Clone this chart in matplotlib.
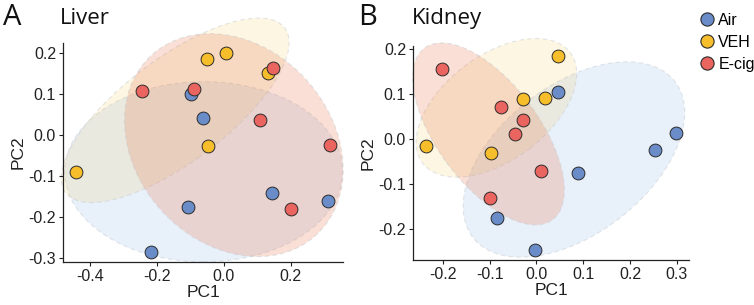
import numpy as np
import matplotlib
matplotlib.use("Agg")
import matplotlib.pyplot as plt
from matplotlib.patches import Ellipse

plt.rcParams['font.family'] = ['Liberation Sans', 'DejaVu Sans']

groups = ["Air", "VEH", "E-cig"]
colors = {"Air": "#6A8CC8", "VEH": "#F7BE2B", "E-cig": "#EA6460"}
fill_colors = {"Air": "#8FB8E8", "VEH": "#F7BE2B", "E-cig": "#E8805A"}
fill_alpha = {"Air": 0.2, "VEH": 0.13, "E-cig": 0.25}

# Liver PCA scores
liver_air_pc1 = [-0.097, -0.062, 0.145, 0.310, -0.108, -0.217]
liver_air_pc2 = [0.100, 0.041, -0.141, -0.162, -0.177, -0.286]
liver_veh_pc1 = [0.007, -0.050, 0.133, -0.048, -0.442]
liver_veh_pc2 = [0.200, 0.185, 0.150, -0.027, -0.090]
liver_ecig_pc1 = [0.148, -0.245, -0.088, 0.108, 0.318, 0.200]
liver_ecig_pc2 = [0.163, 0.108, 0.113, 0.037, -0.025, -0.182]

# Kidney PCA scores
kidney_air_pc1 = [0.299, 0.254, 0.089, 0.045, -0.084, -0.004]
kidney_air_pc2 = [0.014, -0.025, -0.075, 0.104, -0.176, -0.248]
kidney_veh_pc1 = [0.045, -0.029, 0.019, -0.237, -0.098]
kidney_veh_pc2 = [0.185, 0.089, 0.091, -0.016, -0.031]
kidney_ecig_pc1 = [-0.201, -0.076, -0.029, -0.046, 0.010, -0.100]
kidney_ecig_pc2 = [0.156, 0.070, 0.042, 0.011, -0.072, -0.131]

# Group ellipses (centre, full width, full height, angle in degrees), order Air, VEH, E-cig
liver_ell_cx = [-0.06, -0.145, 0.03]
liver_ell_cy = [-0.09, 0.06, -0.025]
liver_ell_w = [0.83, 0.77, 0.68]
liver_ell_h = [0.44, 0.27, 0.51]
liver_ell_angle = [0, 30, -25]

kidney_ell_cx = [0.08, -0.0855, -0.1025]
kidney_ell_cy = [-0.046, 0.069, 0.011]
kidney_ell_w = [0.554, 0.40, 0.47]
kidney_ell_h = [0.326, 0.23, 0.22]
kidney_ell_angle = [40, 39, -55]

liver_xticks = [-0.4, -0.2, 0.0, 0.2]
liver_yticks = [-0.3, -0.2, -0.1, 0.0, 0.1, 0.2]
kidney_xticks = [-0.2, -0.1, 0.0, 0.1, 0.2, 0.3]
kidney_yticks = [-0.2, -0.1, 0.0, 0.1, 0.2]

liver = {"Air": (liver_air_pc1, liver_air_pc2),
         "VEH": (liver_veh_pc1, liver_veh_pc2),
         "E-cig": (liver_ecig_pc1, liver_ecig_pc2)}
kidney = {"Air": (kidney_air_pc1, kidney_air_pc2),
          "VEH": (kidney_veh_pc1, kidney_veh_pc2),
          "E-cig": (kidney_ecig_pc1, kidney_ecig_pc2)}
liver_ell = list(zip(liver_ell_cx, liver_ell_cy, liver_ell_w, liver_ell_h, liver_ell_angle))
kidney_ell = list(zip(kidney_ell_cx, kidney_ell_cy, kidney_ell_w, kidney_ell_h, kidney_ell_angle))


def panel(ax, data, ells, xticks, yticks):
    allx = np.concatenate([data[g][0] for g in groups])
    ally = np.concatenate([data[g][1] for g in groups])
    for g, (cx, cy, w, h, ang) in zip(groups, ells):
        ax.add_patch(Ellipse((cx, cy), w, h, angle=ang, facecolor=fill_colors[g],
                             alpha=fill_alpha[g], edgecolor="none", zorder=1,
                             clip_on=False))
        ax.add_patch(Ellipse((cx, cy), w, h, angle=ang, facecolor="none",
                             edgecolor="#C8CCD2", linestyle=(0, (4, 3)),
                             linewidth=0.8, alpha=0.5, zorder=1, clip_on=False))
    for g in groups:
        ax.scatter(data[g][0], data[g][1], s=85, c=colors[g], edgecolors="#2b2b2b",
                   linewidths=0.7, zorder=3)
    rx = allx.max() - allx.min()
    ry = ally.max() - ally.min()
    ax.set_xlim(allx.min() - 0.05 * rx, allx.max() + 0.05 * rx)
    ax.set_ylim(ally.min() - 0.05 * ry, ally.max() + 0.05 * ry)
    ax.set_xticks(xticks)
    ax.set_yticks(yticks)
    ax.set_xticklabels([f"{v:.1f}" for v in xticks])
    ax.set_yticklabels([f"{v:.1f}" for v in yticks])
    for s in ["top", "right"]:
        ax.spines[s].set_visible(False)
    for s in ["left", "bottom"]:
        ax.spines[s].set_color("#222222")
        ax.spines[s].set_linewidth(0.9)
        ax.spines[s].set_zorder(4)
    ax.tick_params(labelsize=11.5, colors="#222222", length=3, width=0.8, pad=2)
    ax.set_xlabel("PC1", fontsize=12.5, labelpad=1, color="#222222")
    ax.set_ylabel("PC2", fontsize=12.5, labelpad=2, color="#222222")


fig = plt.figure(figsize=(7.54, 3.05), dpi=100)
W, H = 754.0, 305.0
axA = fig.add_axes([63 / W, 1 - 262 / H, (343 - 63) / W, (262 - 43) / H])
axB = fig.add_axes([413 / W, 1 - 260 / H, (689 - 413) / W, (260 - 46) / H])
panel(axA, liver, liver_ell, liver_xticks, liver_yticks)
panel(axB, kidney, kidney_ell, kidney_xticks, kidney_yticks)

tfont = ['Open Sans', 'DejaVu Sans']
fig.text(3 / W, 1 - 25 / H, "A", fontsize=21, va="baseline", ha="left",
         color="#111111", family=tfont)
fig.text(60 / W, 1 - 24 / H, "Liver", fontsize=16, va="baseline", ha="left",
         color="#111111", family=tfont)
fig.text(358 / W, 1 - 25 / H, "B", fontsize=21, va="baseline", ha="left",
         color="#111111", family=tfont)
fig.text(412 / W, 1 - 24 / H, "Kidney", fontsize=16, va="baseline", ha="left",
         color="#111111", family=tfont)

handles = [plt.Line2D([], [], marker="o", linestyle="none", markersize=9.5,
                      markerfacecolor=colors[g], markeredgecolor="#2b2b2b",
                      markeredgewidth=0.8) for g in groups]
fig.legend(handles, groups, loc="upper left", bbox_to_anchor=(688 / W, 1 - 3 / H),
           frameon=False, fontsize=11.5, handletextpad=0.1, labelspacing=0.45,
           borderpad=0.1, handlelength=1.2)

fig.savefig("out.png", dpi=100)
